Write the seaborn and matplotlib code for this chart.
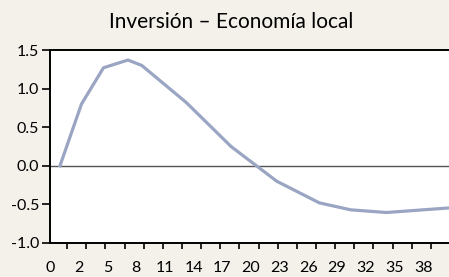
import pandas as pd
import seaborn as sns
import matplotlib.pyplot as plt

# Response path (period, value)
periods = [0.24, 2.49, 4.79, 7.35, 8.79, 13.44, 18.12, 22.9, 27.35, 30.6, 34.36, 41.0]
values = [0.0, 0.80, 1.27, 1.37, 1.30, 0.82, 0.25, -0.20, -0.48, -0.57, -0.605, -0.545]

# Axis labels
ytick_values = [-1.0, -0.5, 0.0, 0.5, 1.0, 1.5]
ytick_labels = ['-1.0', '-0.5', '0.0', '0.5', '1.0', '1.5']
xlabel_pos = [-0.8 + 3 * i for i in range(14)]
xlabel_text = ['0', '2', '5', '8', '11', '14', '17', '20', '23', '26', '29', '32', '35', '38']
xtick_marks = list(range(1, 41, 2))

df = pd.DataFrame({'period': periods, 'value': values})

bg = '#f4f1eb'
plt.rcParams['font.family'] = ['Lato', 'DejaVu Sans']

fig = plt.figure(figsize=(4.49, 2.77), dpi=100, facecolor=bg)
ax = fig.add_axes([50 / 449, 34 / 277, 399 / 449, 193 / 277])
ax.set_facecolor('white')

ax.axhline(0, color='#555555', linewidth=1.0, zorder=1)
sns.lineplot(data=df, x='period', y='value', color='#9aa5c3', linewidth=2.3, ax=ax, zorder=2)

ax.set_xlim(0, 40.9)
ax.set_ylim(-1.0, 1.5)
ax.set_yticks(ytick_values)
ax.set_yticklabels(ytick_labels, fontsize=11.5)
ax.tick_params(axis='y', direction='out', length=6, width=1.2, pad=2)

ax.set_xticks(xlabel_pos)
ax.set_xticklabels(xlabel_text, fontsize=11.5)
ax.set_xticks(xtick_marks, minor=True)
ax.tick_params(axis='x', which='major', length=0, pad=13)
ax.tick_params(axis='x', which='minor', direction='out', length=4, width=1.2)

ax.spines['right'].set_visible(False)
for side in ['left', 'bottom', 'top']:
    ax.spines[side].set_linewidth(1.4)
    ax.spines[side].set_color('black')
ax.set_xlabel('')
ax.set_ylabel('')

fig.text(231 / 449, 1 - 22 / 277, 'Inversión – Economía local', ha='center', va='center', fontsize=15)

fig.savefig('out.png', dpi=100, facecolor=bg)
